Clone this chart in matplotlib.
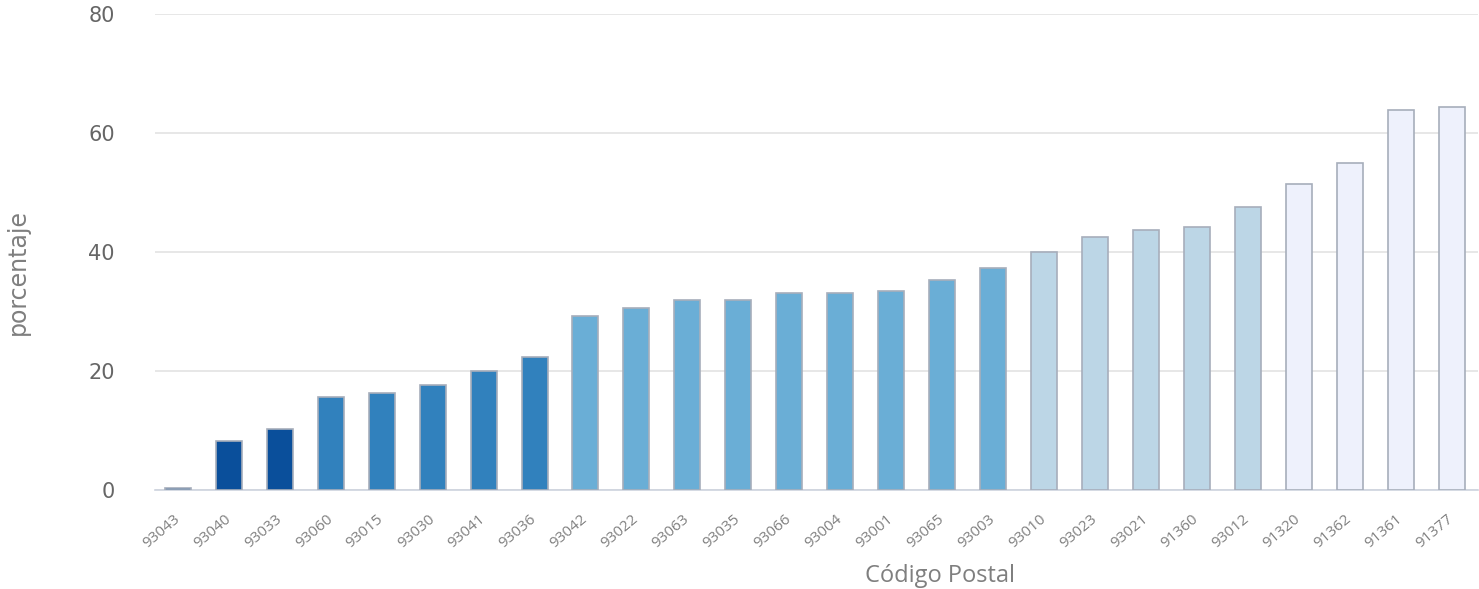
import matplotlib
matplotlib.use('AGG')
import matplotlib.pyplot as plt

# data
codes = ["93043", "93040", "93033", "93060", "93015", "93030", "93041", "93036",
         "93042", "93022", "93063", "93035", "93066", "93004", "93001", "93065",
         "93003", "93010", "93023", "93021", "91360", "93012", "91320", "91362",
         "91361", "91377"]
pct = [0.3, 8.2, 10.1, 15.5, 16.2, 17.5, 20.0, 22.3,
       29.2, 30.5, 31.8, 31.8, 33.1, 33.1, 33.4, 35.2,
       37.2, 40.0, 42.5, 43.7, 44.1, 47.5, 51.4, 54.9,
       63.8, 64.4]
group = [0, 0, 0, 1, 1, 1, 1, 1,
         2, 2, 2, 2, 2, 2, 2, 2,
         2, 3, 3, 3, 3, 3, 4, 4,
         4, 4]
palette = ["#0a4f9b", "#3181bd", "#6aaed6", "#bcd6e6", "#eef1fc"]

fig = plt.figure(figsize=(14.79, 5.89), dpi=100)
ax = fig.add_axes([155 / 1479, 1 - 489.5 / 589, (1478 - 155) / 1479, (489.5 - 14) / 589])

x = list(range(len(codes)))
ax.bar(x, pct, width=0.51, color=[palette[g] for g in group],
       edgecolor="#a7aebb", linewidth=1.2, zorder=3)

ax.set_xlim(-0.45, 25.52)
ax.set_ylim(0, 80)
ax.set_yticks([0, 20, 40, 60, 80])
ax.grid(axis="y", color="#e3e3e3", linewidth=1.2, zorder=0)
for side in ["top", "right", "left"]:
    ax.spines[side].set_visible(False)
ax.spines["bottom"].set_color("#cdd3de")
ax.spines["bottom"].set_linewidth(1.2)

ax.tick_params(axis="y", length=0, pad=29, labelsize=15, labelcolor="#666666")
ax.tick_params(axis="x", length=0, pad=20)
ax.set_xticks(x)
ax.set_xticklabels(codes, rotation=40, ha="right", va="center", rotation_mode="anchor",
                   fontsize=11, color="#808080", family="Open Sans")

fig.text(940 / 1479, 1 - 576 / 589, "Código Postal", fontsize=17, color="#7f7f7f",
         family="Open Sans", ha="center", va="center")
fig.text(18 / 1479, 1 - 272 / 589, "porcentaje", rotation=90, fontsize=17,
         color="#7f7f7f", ha="center", va="center")

fig.savefig("out.png", dpi=100)
